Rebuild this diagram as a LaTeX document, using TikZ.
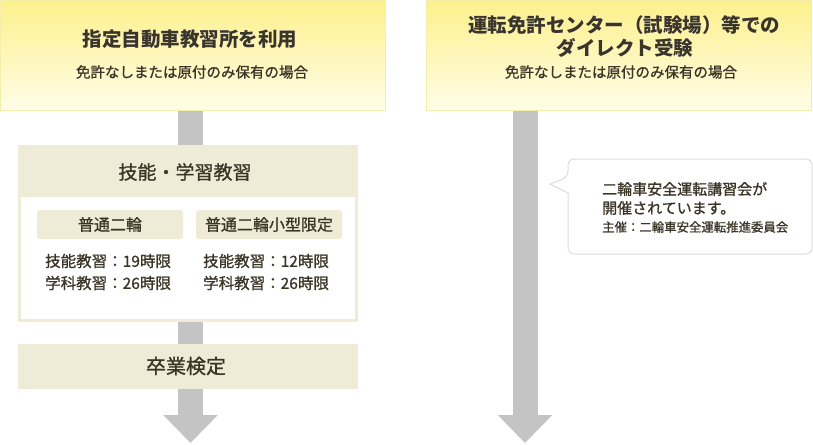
\documentclass[tikz,border=0pt]{standalone}
\usepackage{fontspec}
\usepackage[outline]{contour}
\usetikzlibrary{arrows.meta}
\newfontfamily\jp{Noto Sans CJK JP}
\newfontfamily\jpm[FakeBold=1]{Noto Sans CJK JP}
\contourlength{1.6pt}
\contournumber{24}
\definecolor{topA}{HTML}{FDF08C}
\definecolor{topB}{HTML}{FFFDE8}
\definecolor{topLine}{HTML}{F5EDAA}
\definecolor{beige}{HTML}{EEEBD6}
\definecolor{arrowgray}{HTML}{C4C4C4}
\definecolor{ink}{HTML}{3B3528}
\definecolor{callline}{HTML}{DDDDDD}
\tikzset{
  topbox/.style={draw=topLine, line width=1pt, top color=topA, bottom color=topB, inner sep=0pt},
  beigebox/.style={fill=beige, inner sep=0pt},
  tabbox/.style={fill=beige, rounded corners=3pt, inner sep=0pt, minimum width=146pt, minimum height=29pt, font=\jpm\fontsize{16}{16}\selectfont, text=ink},
  txt/.style={inner sep=0pt, text=ink},
  shaft/.style={draw=arrowgray, line width=25pt},
  bigarrow/.style={draw=arrowgray, line width=25pt, -{Triangle[width=53pt,length=28pt]}},
}
\begin{document}
\begin{tikzpicture}[x=1pt,y=-1pt]
\useasboundingbox (0,0) rectangle (813,444);
% top boxes
\node[topbox, minimum width=385pt, minimum height=110pt] (t1) at (193,55.5) {};
\node[topbox, minimum width=385pt, minimum height=110pt] (t2) at (619,55.5) {};
\node[txt, font=\jp\bfseries\fontsize{19.5}{19.5}\selectfont] (t1title) at (190,39) {\contour{white}{指定自動車教習所を利用}};
\node[txt, font=\jpm\fontsize{14.5}{14.5}\selectfont] (t1sub) at (192,72) {免許なしまたは原付のみ保有の場合};
\node[txt, font=\jp\bfseries\fontsize{19.5}{19.5}\selectfont] (t2title1) at (624,25) {\contour{white}{運転免許センター（試験場）等での}};
\node[txt, font=\jp\bfseries\fontsize{19.5}{19.5}\selectfont] (t2title2) at (625,48) {\contour{white}{ダイレクト受験}};
\node[txt, font=\jpm\fontsize{14.5}{14.5}\selectfont] (t2sub) at (621,72) {免許なしまたは原付のみ保有の場合};
% skill box
\node[beigebox, minimum width=340pt, minimum height=177pt] (skill) at (188,233.5) {};
\node[fill=white, inner sep=0pt, minimum width=334pt, minimum height=122pt] (skillin) at (188,258) {};
\node[txt, font=\jpm\fontsize{19}{19}\selectfont] (skilltitle) at (185,172) {技能・学習教習};
\node[tabbox] (tabA) at (110,224.5) {普通二輪};
\node[tabbox] (tabB) at (269,224.5) {普通二輪小型限定};
\node[txt, anchor=west, font=\jpm\fontsize{15.5}{15.5}\selectfont] (a1) at (45,261) {技能教習：19時限};
\node[txt, anchor=west, font=\jpm\fontsize{15.5}{15.5}\selectfont] (a2) at (45,283) {学科教習：26時限};
\node[txt, anchor=west, font=\jpm\fontsize{15.5}{15.5}\selectfont] (b1) at (203,261) {技能教習：12時限};
\node[txt, anchor=west, font=\jpm\fontsize{15.5}{15.5}\selectfont] (b2) at (203,283) {学科教習：26時限};
% exam box
\node[beigebox, minimum width=340pt, minimum height=45pt] (exam) at (188,366.5) {};
\node[txt, font=\jpm\fontsize{20}{20}\selectfont] (examtxt) at (186,366) {卒業検定};
% arrows
\coordinate (end1) at (190.5,443);
\coordinate (end2) at (525,443);
\draw[shaft] (t1.south -| end1) -- (skill.north -| end1);
\draw[shaft] (skill.south -| end1) -- (exam.north -| end1);
\draw[bigarrow] (exam.south -| end1) -- (end1);
\draw[bigarrow] (t2.south -| end2) -- (end2);
% callout
\draw[draw=callline, fill=white, line width=1pt, rounded corners=6pt]
  (568,193) -- (568,254) -- (812,254) -- (812,159) -- (568,159) -- (568,177)
  [sharp corners] -- (550,184) -- cycle;
\node[txt, anchor=west, font=\jpm\fontsize{15}{15}\selectfont] (c1) at (602,189) {二輪車安全運転講習会が};
\node[txt, anchor=west, font=\jpm\fontsize{15}{15}\selectfont] (c2) at (602,208) {開催されています。};
\node[txt, anchor=west, font=\jpm\fontsize{12.4}{12.4}\selectfont] (c3) at (602,227) {主催：二輪車安全運転推進委員会};
\end{tikzpicture}
\end{document}
